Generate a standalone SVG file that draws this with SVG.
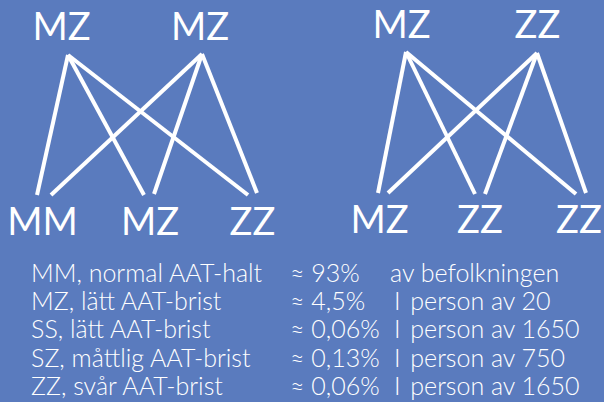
<svg xmlns="http://www.w3.org/2000/svg" width="604" height="402" viewBox="0 0 604 402">
  <style>
    .bg { fill: #5a7bbe; }
    .lbl { fill: #ffffff; font-family: Lato, "Open Sans", "DejaVu Sans", sans-serif; font-weight: 400; font-size: 38px; text-anchor: middle; }
    .row { fill: #ffffff; font-family: Lato, "Open Sans", "DejaVu Sans", sans-serif; font-weight: 300; font-size: 25px; }
    .edge { stroke: #ffffff; stroke-width: 4; stroke-linecap: butt; fill: none; }
  </style>
  <rect class="bg" x="0" y="0" width="604" height="402"/>

  <!-- left cross: MZ x MZ -->
  <g id="p1-left"><text class="lbl" x="61.5" y="40">MZ</text></g>
  <g id="p1-right"><text class="lbl" x="200" y="40">MZ</text></g>
  <g id="c1-mm"><text class="lbl" x="42.5" y="235">MM</text></g>
  <g id="c1-mz"><text class="lbl" x="150" y="235">MZ</text></g>
  <g id="c1-zz"><text class="lbl" x="252.5" y="235">ZZ</text></g>

  <!-- right cross: MZ x ZZ -->
  <g id="p2-left"><text class="lbl" x="401.5" y="38">MZ</text></g>
  <g id="p2-right"><text class="lbl" x="537.5" y="38">ZZ</text></g>
  <g id="c2-mz"><text class="lbl" x="379.5" y="233">MZ</text></g>
  <g id="c2-zz1"><text class="lbl" x="480" y="233">ZZ</text></g>
  <g id="c2-zz2"><text class="lbl" x="579" y="233">ZZ</text></g>

  <g id="connectors">
    <line class="edge" x1="68" y1="55" x2="37" y2="195"/>
    <line class="edge" x1="68" y1="55" x2="144" y2="195"/>
    <line class="edge" x1="68" y1="55" x2="248" y2="195"/>
    <line class="edge" x1="202" y1="54" x2="51" y2="195"/>
    <line class="edge" x1="202" y1="54" x2="154" y2="194"/>
    <line class="edge" x1="202" y1="54" x2="257" y2="193"/>

    <line class="edge" x1="406" y1="52" x2="378" y2="193"/>
    <line class="edge" x1="406" y1="52" x2="475" y2="194"/>
    <line class="edge" x1="406" y1="52" x2="576" y2="194"/>
    <line class="edge" x1="537" y1="53" x2="388" y2="193"/>
    <line class="edge" x1="537" y1="53" x2="485" y2="194"/>
    <line class="edge" x1="537" y1="53" x2="586" y2="193"/>
  </g>

  <!-- frequency table -->
  <g id="table">
    <text class="row" x="31" y="282">MM, normal AAT-halt</text>
    <text class="row" x="31" y="310">MZ, lätt AAT-brist</text>
    <text class="row" x="31" y="338">SS, lätt AAT-brist</text>
    <text class="row" x="31" y="367">SZ, måttlig AAT-brist</text>
    <text class="row" x="31" y="395">ZZ, svår AAT-brist</text>

    <text class="row" x="290" y="282">≈ 93%</text>
    <text class="row" x="290" y="310">≈ 4,5%</text>
    <text class="row" x="290" y="338">≈ 0,06%</text>
    <text class="row" x="290" y="367">≈ 0,13%</text>
    <text class="row" x="290" y="395">≈ 0,06%</text>

    <text class="row" x="390" y="282">av befolkningen</text>
    <text class="row" x="394" y="310">I<tspan dx="3"> person av 20</tspan></text>
    <text class="row" x="394" y="338">I<tspan dx="3"> person av 1650</tspan></text>
    <text class="row" x="394" y="367">I<tspan dx="3"> person av 750</tspan></text>
    <text class="row" x="394" y="395">I<tspan dx="3"> person av 1650</tspan></text>
  </g>
</svg>
